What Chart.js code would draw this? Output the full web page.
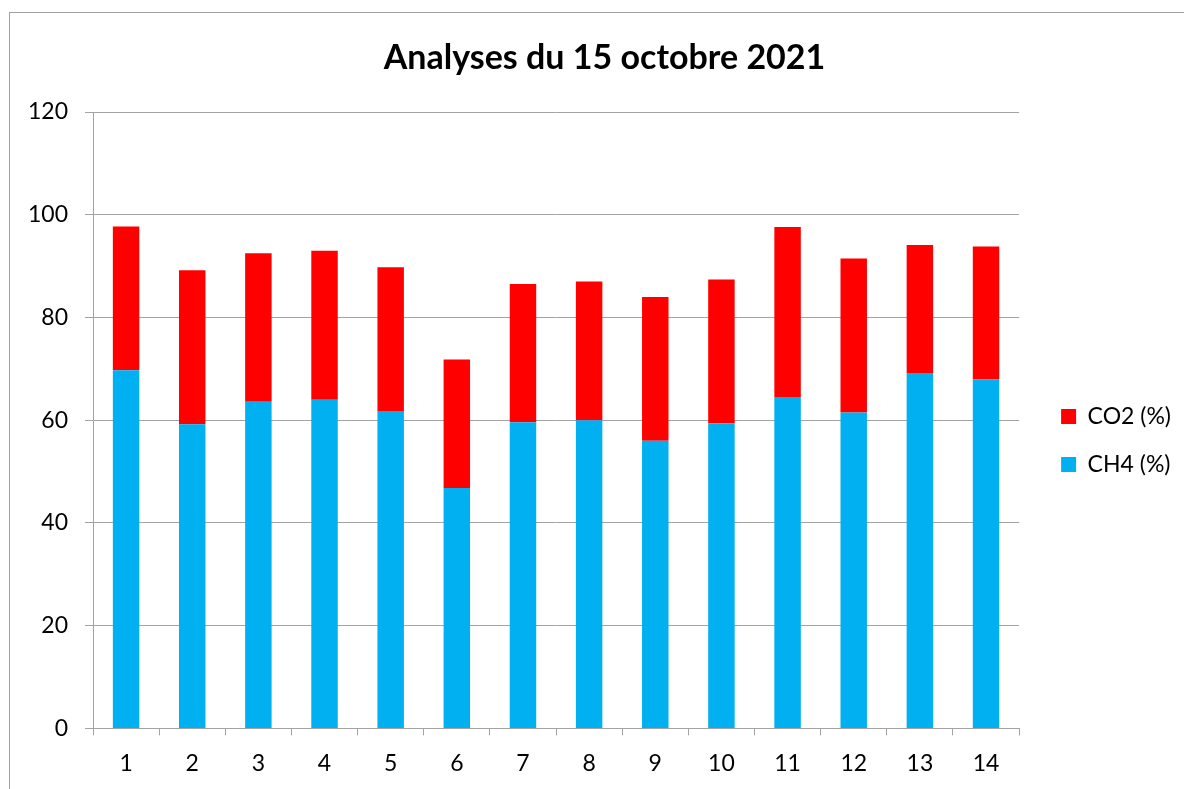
<!DOCTYPE html>
<html>
<head>
<meta charset="utf-8">
<script src="https://cdn.jsdelivr.net/npm/chart.js@4.4.0/dist/chart.umd.min.js"></script>
<style>
  body { margin: 0; background: #fff; overflow: hidden; }
  #frame {
    position: absolute; left: 9px; top: 12px;
    width: 1186px; height: 790px;
    border: 1px solid #a0a0a0;
  }
</style>
</head>
<body>
<div id="frame">
  <canvas id="chart" width="1186" height="790"></canvas>
</div>
<script>
// data
const categories = ['1', '2', '3', '4', '5', '6', '7', '8', '9', '10', '11', '12', '13', '14'];
const ch4 = [69.7, 59.2, 63.6, 64.0, 61.8, 46.8, 59.6, 60.0, 56.0, 59.4, 64.5, 61.5, 69.2, 67.9];
const co2 = [28.0, 30.0, 28.9, 29.0, 28.0, 25.0, 26.9, 27.0, 28.0, 28.0, 33.1, 30.0, 24.9, 25.9];
const yTicks = [0, 20, 40, 60, 80, 100, 120];

const gridGray = '#a3a3a3';
const font = 'Lato';

new Chart(document.getElementById('chart'), {
  type: 'bar',
  data: {
    labels: categories,
    datasets: [
      { label: 'CH4 (%)', data: ch4, backgroundColor: '#00B0F0' },
      { label: 'CO2 (%)', data: co2, backgroundColor: '#FF0000' }
    ]
  },
  options: {
    responsive: false,
    animation: false,
    barPercentage: 0.4,
    categoryPercentage: 1.0,
    layout: { padding: { left: 18, right: 15, top: 0, bottom: 12 } },
    plugins: {
      tooltip: { enabled: false },
      title: {
        display: true,
        text: 'Analyses du 15 octobre 2021',
        color: '#000',
        font: { family: font, size: 34, weight: 'bold', lineHeight: 1.2 },
        padding: { top: 25, bottom: 33.2 }
      },
      legend: {
        position: 'right',
        reverse: true,
        // empty title only pushes the items down a bit
        title: { display: true, text: '', font: { size: 1, lineHeight: 1 }, padding: { top: 76, bottom: 0 } },
        labels: {
          color: '#000',
          font: { family: font, size: 23 },
          boxWidth: 15,
          boxHeight: 15,
          padding: 25
        }
      }
    },
    scales: {
      x: {
        stacked: true,
        grid: { drawOnChartArea: false, color: gridGray, tickLength: 7 },
        border: { color: gridGray },
        ticks: { color: '#000', font: { family: font, size: 23 }, padding: 14, maxRotation: 0 }
      },
      y: {
        stacked: true,
        min: 0,
        max: 120,
        afterBuildTicks: (scale) => { scale.ticks = yTicks.map(v => ({ value: v })); },
        afterFit: (scale) => { scale.width = 65; },
        grid: { color: gridGray, tickLength: 8 },
        border: { color: gridGray },
        ticks: { color: '#000', font: { family: font, size: 23 }, padding: 17 }
      },
      // empty spacer between plot and legend
      gap: {
        position: 'right',
        display: true,
        grid: { display: false },
        border: { display: false },
        ticks: { display: false },
        afterFit: (scale) => { scale.width = 17; }
      }
    }
  }
});
</script>
</body>
</html>
